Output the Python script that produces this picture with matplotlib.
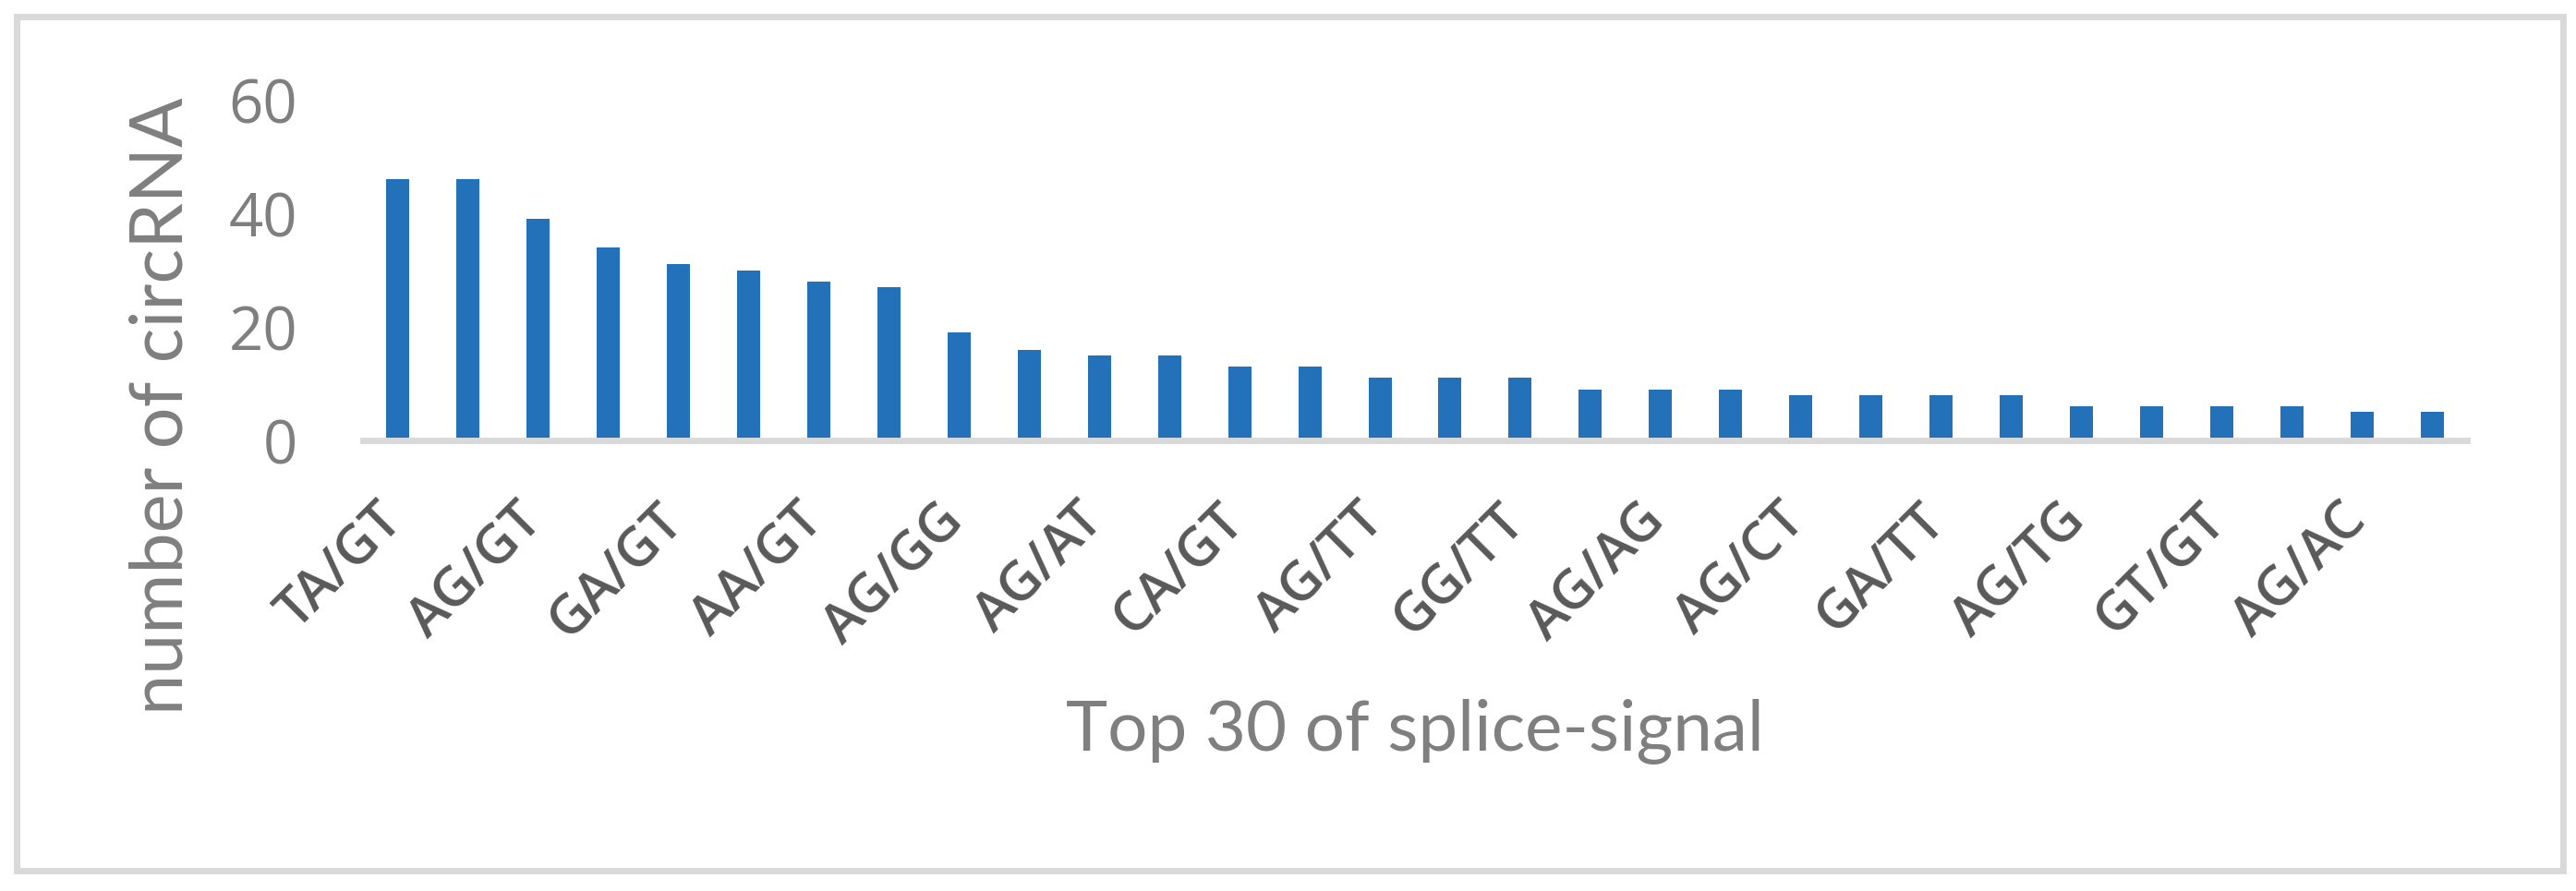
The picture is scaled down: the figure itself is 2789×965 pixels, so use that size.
import numpy as np
import matplotlib
matplotlib.use("Agg")
import matplotlib.pyplot as plt
from matplotlib.patches import Rectangle
from matplotlib.transforms import ScaledTranslation

# number of circRNA per splice signal (top 30, sorted)
counts = [46, 46, 39, 34, 31, 30, 28, 27, 19, 16,
          15, 15, 13, 13, 11, 11, 11, 9, 9, 9,
          8, 8, 8, 8, 6, 6, 6, 6, 5, 5]
# only every second category is labelled in the chart
shown_labels = ["TA/GT", "AG/GT", "GA/GT", "AA/GT", "AG/GG", "AG/AT", "CA/GT",
                "AG/TT", "GG/TT", "AG/AG", "AG/CT", "GA/TT", "AG/TG", "GT/GT", "AG/AC"]
y_ticks = [0, 20, 40, 60]

W, H, DPI = 2789, 965, 100
BLUE = "#2271B9"
GRID = "#D9D9D9"
TICK_GRAY = "#7F7F7F"
CAT_GRAY = "#595959"

fig = plt.figure(figsize=(W / DPI, H / DPI), dpi=DPI)
fig.patch.set_facecolor("white")

# outer chart border
fig.add_artist(Rectangle((18 / W, 1 - 943 / H), (2775 - 18) / W, (943 - 18) / H,
                         transform=fig.transFigure, fill=False,
                         edgecolor=GRID, linewidth=5))

ax_l, ax_r, ax_b, ax_t = 393, 2671, 477, 108
ax = fig.add_axes([ax_l / W, 1 - ax_b / H, (ax_r - ax_l) / W, (ax_b - ax_t) / H])

x = np.arange(len(counts))
ax.bar(x, counts, width=0.33, color=BLUE, zorder=2)

ax.set_xlim(-0.5, len(counts) - 0.5)
ax.set_ylim(0, 60)

for s in ["top", "right", "left"]:
    ax.spines[s].set_visible(False)
ax.spines["bottom"].set_color(GRID)
ax.spines["bottom"].set_linewidth(5)
ax.spines["bottom"].set_zorder(3)

ax.set_yticks(y_ticks)
ax.set_yticklabels([str(v) for v in y_ticks], fontsize=47, color=TICK_GRAY,
                   family="Open Sans")
ax.tick_params(axis="y", length=0, pad=51)

ax.set_xticks(x[::2])
ax.set_xticklabels(shown_labels, rotation=45, ha="right", va="top",
                   rotation_mode="anchor", fontsize=42, color=CAT_GRAY,
                   family="Open Sans", fontweight="semibold")
ax.tick_params(axis="x", length=0, pad=42)
shift = ScaledTranslation(-24 / DPI, 0, fig.dpi_scale_trans)
for lab in ax.get_xticklabels():
    lab.set_transform(lab.get_transform() + shift)

fig.text(176 / W, 1 - 440 / H, "number of circRNA", rotation=90,
         ha="center", va="center", fontsize=57, color=TICK_GRAY, family="Lato")
fig.text(1532 / W, 1 - 792 / H, "Top 30 of splice-signal",
         ha="center", va="center", fontsize=55, color=TICK_GRAY, family="Lato")

fig.savefig("out.png", dpi=DPI, facecolor="white")
